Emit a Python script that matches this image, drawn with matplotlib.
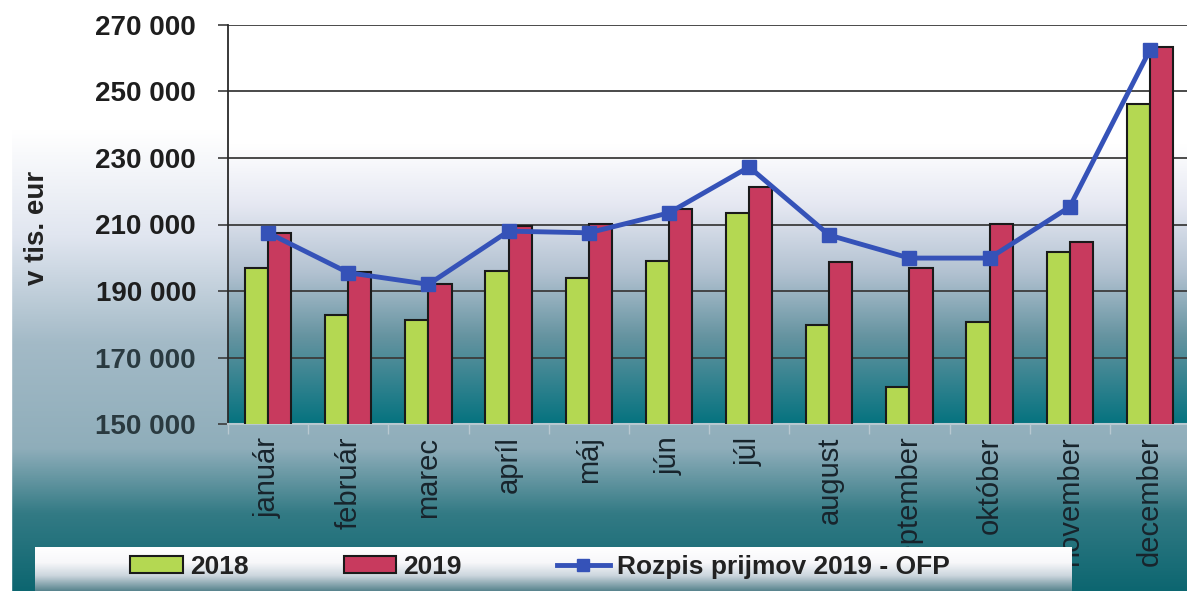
import numpy as np
import matplotlib.pyplot as plt
from matplotlib.colors import LinearSegmentedColormap
from matplotlib.patches import Patch, Rectangle
from matplotlib.lines import Line2D

plt.rcParams['font.family'] = ['Liberation Sans', 'DejaVu Sans']

months = ['január', 'február', 'marec', 'apríl', 'máj', 'jún', 'júl',
          'august', 'september', 'október', 'november', 'december']
v2018 = [196900, 182800, 181300, 196000, 193900, 199000, 213500,
         179800, 161100, 180700, 201700, 246200]
v2019 = [207400, 195700, 192100, 209500, 210100, 214700, 221300,
         198700, 196900, 210100, 204700, 263400]
rozpis = [207500, 195500, 192000, 208000, 207500, 213500, 227300,
          206800, 199900, 199900, 215300, 262500]
yticks = [150000, 170000, 190000, 210000, 230000, 250000, 270000]

W, H = 1187, 591
fig = plt.figure(figsize=(W / 100, H / 100), dpi=100)

# figure background gradient (top -> bottom)
bg = LinearSegmentedColormap.from_list('bg', [
    (0.00, (1, 1, 1)), (0.22, (1, 1, 1)), (0.40, (0.88, 0.90, 0.94)),
    (0.58, (0.64, 0.73, 0.78)), (0.76, (0.56, 0.68, 0.73)),
    (0.87, (0.20, 0.48, 0.52)), (1.00, (0.05, 0.40, 0.44))])
bax = fig.add_axes([0, 0, 1, 1], zorder=-2)
bax.imshow(np.linspace(0, 1, 256)[:, None], cmap=bg, aspect='auto',
           extent=[0, 1, 0, 1])
bax.add_patch(Rectangle((0, 0), 11 / W, 1, color='white'))
bax.axis('off')

ax = fig.add_axes([228 / W, 1 - 424 / H, 962 / W, 399 / H], zorder=1)
ax.patch.set_alpha(0)
pa = LinearSegmentedColormap.from_list('pa', [
    (0.00, (1, 1, 1)), (0.30, (1, 1, 1)), (0.45, (0.90, 0.91, 0.95)),
    (0.62, (0.70, 0.76, 0.82)), (0.78, (0.40, 0.58, 0.63)),
    (1.00, (0.02, 0.45, 0.50))])
ax.imshow(np.linspace(0, 1, 256)[:, None], cmap=pa, aspect='auto',
          extent=[-0.5, 11.5, 150000, 270000], zorder=0)

x = np.arange(len(months))
w = 0.29
ax.bar(x - w / 2, v2018, w, color='#b4d852', edgecolor='#1a1a1a',
       linewidth=1.5, zorder=3)
ax.bar(x + w / 2, v2019, w, color='#c83a5e', edgecolor='#1a1a1a',
       linewidth=1.5, zorder=3)
ax.plot(x, rozpis, color='#3552b8', lw=3.5, marker='s', markersize=10,
        zorder=4)

ax.set_xlim(-0.5, 11.5)
ax.set_ylim(150000, 270000)
ax.set_yticks(yticks)
ax.set_yticklabels([f'{v:,}'.replace(',', ' ') for v in yticks],
                   fontsize=20, fontweight='bold', color='#1e1e1e')
for lab in ax.get_yticklabels()[:2]:
    lab.set_color('#2a3a40')
ax.grid(axis='y', color='#3c3c3c', lw=1.3, zorder=1)
ax.tick_params(axis='y', length=7, width=1.2, color='#3c3c3c', pad=16)

ax.set_xticks(x)
ax.set_xticklabels(months, rotation=90, fontsize=21, color='#18242c')
ax.tick_params(axis='x', length=0, pad=9)
ax.set_xticks(np.arange(-0.5, 12, 1), minor=True)
ax.tick_params(axis='x', which='minor', length=7, color='#b8c8d0', width=1)

for s in ['top', 'right']:
    ax.spines[s].set_visible(False)
ax.spines['left'].set_color('#2a2a2a')
ax.spines['left'].set_linewidth(1.3)
ax.spines['bottom'].set_color('#b8c8d0')
ax.spines['bottom'].set_linewidth(1.5)

fig.text(37 / W, 1 - 228 / H, 'v tis. eur', rotation=90, fontsize=20,
         fontweight='bold', color='#222222', ha='center', va='center')

# legend box
lx0, lx1, ly0, ly1 = 35, 1072, 547, 591
lax = fig.add_axes([lx0 / W, 1 - ly1 / H, (lx1 - lx0) / W, (ly1 - ly0) / H],
                   zorder=5)
lg = LinearSegmentedColormap.from_list('lg', [
    (0.00, (1, 1, 1)), (0.35, (0.97, 0.97, 0.98)), (0.65, (0.80, 0.84, 0.87)),
    (1.00, (0.35, 0.52, 0.56))])
lax.imshow(np.linspace(0, 1, 64)[:, None], cmap=lg, aspect='auto',
           extent=[0, 1, 0, 1])
lax.set_xlim(0, 1)
lax.set_ylim(0, 1)
lax.axis('off')
handles = [Patch(facecolor='#b4d852', edgecolor='#1a1a1a', lw=1.5),
           Patch(facecolor='#c83a5e', edgecolor='#1a1a1a', lw=1.5),
           Line2D([], [], color='#3552b8', lw=3.5, marker='s', markersize=8)]
leg = lax.legend(handles, ['2018', '2019', 'Rozpis prijmov 2019 - OFP'],
                 ncol=3, loc='center left', bbox_to_anchor=(0.0916, 0.55),
                 frameon=False, borderpad=0, borderaxespad=0,
                 handlelength=2.0, handleheight=0.65, handletextpad=0.27,
                 columnspacing=3.6,
                 prop={'size': 19, 'weight': 'bold'})
for t in leg.get_texts():
    t.set_color('#222222')

fig.savefig('out.png', dpi=100)
